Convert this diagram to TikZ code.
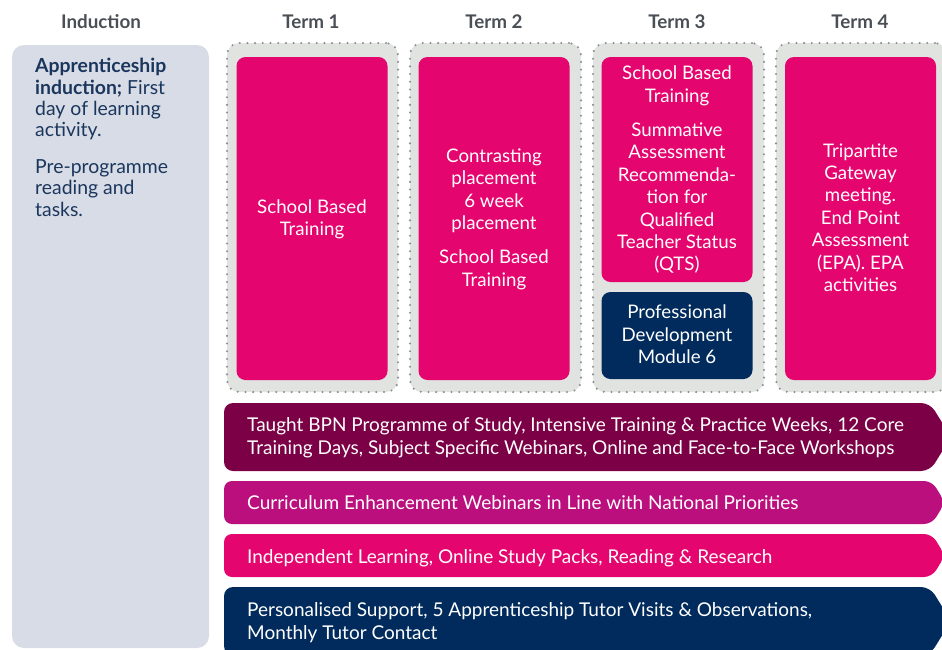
\documentclass[tikz,border=0pt]{standalone}
\usepackage{fontspec}
\setmainfont{Lato}
\newfontfamily\bandfont{Lato}
\usetikzlibrary{positioning}

\definecolor{bpnpink}{HTML}{E4056E}
\definecolor{bpnmaroon}{HTML}{7C0045}
\definecolor{bpnplum}{HTML}{BB0F7E}
\definecolor{bpnnavy}{HTML}{002B5C}
\definecolor{indfill}{HTML}{D8DCE6}
\definecolor{indtext}{HTML}{1B365D}
\definecolor{termfill}{HTML}{E1E3E1}
\definecolor{dotgrey}{HTML}{8C8F93}
\definecolor{headgrey}{HTML}{4A4F55}

\tikzset{
  heading/.style={font=\bfseries\fontsize{18.8}{20}\selectfont,text=headgrey},
  termbg/.style={fill=termfill,draw=dotgrey,line width=2.3pt,line cap=round,
    dash pattern=on 0pt off 7.7pt,rounded corners=12pt,minimum width=171pt,
    minimum height=349pt,inner sep=0pt},
  card/.style={rounded corners=9pt,text=white,align=center,inner sep=0pt,
    font=\fontsize{18.7}{22.4}\selectfont,minimum width=151pt,text depth=2pt},
  bandtext/.style={anchor=west,text=white,align=left,inner sep=0pt,
    font=\bandfont\fontsize{19}{22.6}\selectfont}
}

\begin{document}
\begin{tikzpicture}[x=1pt,y=-1pt]
\useasboundingbox (0,0) rectangle (942,649);

% headings
\node[heading] (hind) at (101,22) {Induction};
\node[heading] (h1) at (311,22) {Term 1};
\node[heading] (h2) at (494,22) {Term 2};
\node[heading] (h3) at (677,22) {Term 3};
\node[heading] (h4) at (860,22) {Term 4};

% induction column
\fill[indfill,rounded corners=12pt] (12,45) rectangle (209,648);
\node[anchor=north west,text=indtext,align=left,inner sep=0pt,
  font=\fontsize{19.4}{21.4}\selectfont] (indtxt) at (35,58)
  {\textbf{Apprenticeship}\\ \textbf{induction;} First\\ day of learning\\ activity.\\[15pt]
   Pre-programme\\ reading and\\ tasks.};

% term containers
\node[termbg] (t1) at (312.5,217.5) {};
\node[termbg] (t2) at (495.5,217.5) {};
\node[termbg] (t3) at (678.5,217.5) {};
\node[termbg] (t4) at (861.5,217.5) {};

% cards
\node[card,fill=bpnpink,minimum height=323pt] (c1) at (312,218.5)
  {School Based\\ Training};
\node[card,fill=bpnpink,minimum height=323pt] (c2) at (494,218.5)
  {Contrasting\\ placement\\ 6 week\\ placement\\[12pt] School Based\\ Training};
\node[card,fill=bpnpink,minimum height=225pt] (c3) at (677,169.5)
  {School Based\\ Training\\[12pt] Summative\\ Assessment\\ Recommenda-\\ tion for\\ Qualified\\ Teacher Status\\ (QTS)};
\node[card,fill=bpnnavy,minimum height=87pt] (c3b) at (677,335.5)
  {Professional\\ Development\\ Module 6};
\node[card,fill=bpnpink,minimum height=323pt] (c4) at (860.5,218.5)
  {Tripartite\\ Gateway\\ meeting.\\ End Point\\ Assessment\\ (EPA). EPA\\ activities};

% bands
\fill[bpnmaroon,rounded corners=9pt] (224,403) -- (930,403) -- (951,437)
  -- (930,471) -- (224,471) -- cycle;
\fill[bpnplum,rounded corners=8pt] (224,481) -- (932,481) -- (945,502.5)
  -- (932,524) -- (224,524) -- cycle;
\fill[bpnpink,rounded corners=8pt] (224,534) -- (932,534) -- (945,555.5)
  -- (932,577) -- (224,577) -- cycle;
\fill[bpnnavy,rounded corners=9pt] (224,587) -- (930,587) -- (951,621)
  -- (930,655) -- (224,655) -- cycle;

\node[bandtext] (b1) at (247,437.5)
  {Taught BPN Programme of Study, Intensive Training \& Practice Weeks, 12 Core\\
   Training Days, Subject Specific Webinars, Online and Face-to-Face Workshops};
\node[bandtext] (b2) at (247,503)
  {Curriculum Enhancement Webinars in Line with National Priorities};
\node[bandtext] (b3) at (247,558)
  {Independent Learning, Online Study Packs, Reading \& Research};
\node[bandtext] (b4) at (247,622.5)
  {Personalised Support, 5 Apprenticeship Tutor Visits \& Observations,\\
   Monthly Tutor Contact};
\end{tikzpicture}
\end{document}
